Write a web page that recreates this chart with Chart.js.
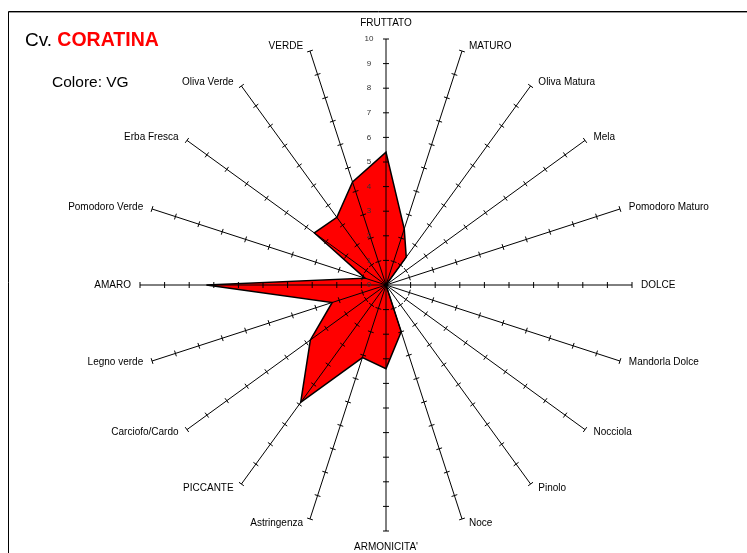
<!DOCTYPE html>
<html>
<head>
<meta charset="utf-8">
<script src="https://cdn.jsdelivr.net/npm/chart.js@4/dist/chart.umd.min.js"></script>
<style>
  html, body { margin: 0; padding: 0; background: #fff; }
  #wrap { width: 747px; height: 553px; position: relative; }
</style>
</head>
<body>
<div id="wrap"><canvas id="myChart" width="747" height="553"></canvas></div>
<script>
const labels = [
  "FRUTTATO", "MATURO", "Oliva Matura", "Mela", "Pomodoro Maturo",
  "DOLCE", "Mandorla Dolce", "Nocciola", "Pinolo", "Noce",
  "ARMONICITA'", "Astringenza", "PICCANTE", "Carciofo/Cardo", "Legno verde",
  "AMARO", "Pomodoro Verde", "Erba Fresca", "Oliva Verde", "VERDE"
];
const coratina = [5.4, 2.4, 1.4, 0, 0, 0, 0, 0, 0, 2.0, 3.4, 3.1, 5.9, 3.8, 2.3, 7.3, 0.9, 3.6, 3.4, 4.4];
const tickValues = [0, 1, 2, 3, 4, 5, 6, 7, 8, 9, 10];

const FONT = "'Liberation Sans', Arial, sans-serif";

// frame + title text
const frame = {
  id: "frame",
  beforeDraw(chart) {
    const ctx = chart.ctx;
    ctx.save();
    ctx.fillStyle = "#fff";
    ctx.fillRect(0, 0, chart.width, chart.height);
    ctx.strokeStyle = "#999";
    ctx.lineWidth = 1;
    ctx.beginPath();
    ctx.moveTo(9, 12.5); ctx.lineTo(chart.width + 5, 12.5);
    ctx.stroke();
    ctx.strokeStyle = "#000";
    ctx.beginPath();
    ctx.moveTo(8.5, chart.height + 5); ctx.lineTo(8.5, 11.5); ctx.lineTo(chart.width + 5, 11.5);
    ctx.stroke();
    ctx.textBaseline = "alphabetic";
    ctx.font = "19px " + FONT;
    ctx.fillStyle = "#000";
    ctx.fillText("Cv. ", 25, 46);
    const w = ctx.measureText("Cv. ").width;
    ctx.font = "bold 19.5px " + FONT;
    ctx.fillStyle = "#ff0000";
    ctx.fillText("CORATINA", 25 + w, 46);
    ctx.font = "15.5px " + FONT;
    ctx.fillStyle = "#000";
    ctx.fillText("Colore: VG", 52, 87);
    ctx.restore();
  }
};

// small cross marks on every spoke, tick numbers and the spoke names
const spokeTicks = {
  id: "spokeTicks",
  afterDraw(chart) {
    const scale = chart.scales.r;
    const ctx = chart.ctx;
    ctx.save();
    ctx.strokeStyle = "#000";
    ctx.lineWidth = 1;
    for (let i = 0; i < labels.length; i++) {
      for (let v = 1; v <= 10; v++) {
        const p = scale.getPointPositionForValue(i, v);
        const a = p.angle;
        const dx = -Math.sin(a) * 3, dy = Math.cos(a) * 3;
        ctx.beginPath();
        ctx.moveTo(p.x - dx, p.y - dy);
        ctx.lineTo(p.x + dx, p.y + dy);
        ctx.stroke();
      }
    }
    ctx.font = "8px " + FONT;
    ctx.fillStyle = "#333";
    ctx.textAlign = "center";
    ctx.textBaseline = "middle";
    tickValues.forEach(v => {
      const p = scale.getPointPositionForValue(0, v);
      ctx.fillText(String(v), p.x - 17, p.y);
    });

    // names beside the spoke ends
    ctx.font = "10px " + FONT;
    ctx.fillStyle = "#000";
    labels.forEach((name, i) => {
      const p = scale.getPointPositionForValue(i, scale.max);
      const ux = Math.cos(p.angle), uy = Math.sin(p.angle);
      if (Math.abs(ux) < 0.01) {
        ctx.textAlign = "center";
        ctx.fillText(name, p.x, p.y + uy * 16);
      } else {
        ctx.textAlign = ux > 0 ? "left" : "right";
        ctx.fillText(name, p.x + Math.sign(ux) * (6 + 3 * Math.abs(ux)), p.y + uy * 5);
      }
    });
    ctx.restore();
  }
};

const data = {
  labels: labels,
  datasets: [
    {
      label: "CORATINA",
      data: coratina,
      backgroundColor: "rgb(255, 0, 0)",
      borderColor: "#000",
      borderWidth: 1.5,
      pointRadius: 0,
      fill: true,
    },
  ],
};

const config = {
  type: "radar",
  data: data,
  options: {
    responsive: false,
    animation: false,
    layout: { padding: { top: 39, left: 140, right: 115, bottom: 22 } },
    plugins: {
      legend: { display: false },
      tooltip: { enabled: false },
    },
    elements: { line: { tension: 0 } },
    scales: {
      r: {
        z: 1,
        min: 0,
        max: 10,
        ticks: { stepSize: 1, display: false },
        grid: { display: false, z: 1 },
        angleLines: { display: true, color: "#000", lineWidth: 1 },
        pointLabels: { display: false },
      },
    },
  },
  plugins: [frame, spokeTicks],
};

new Chart(document.getElementById("myChart").getContext("2d"), config);
</script>
</body>
</html>
